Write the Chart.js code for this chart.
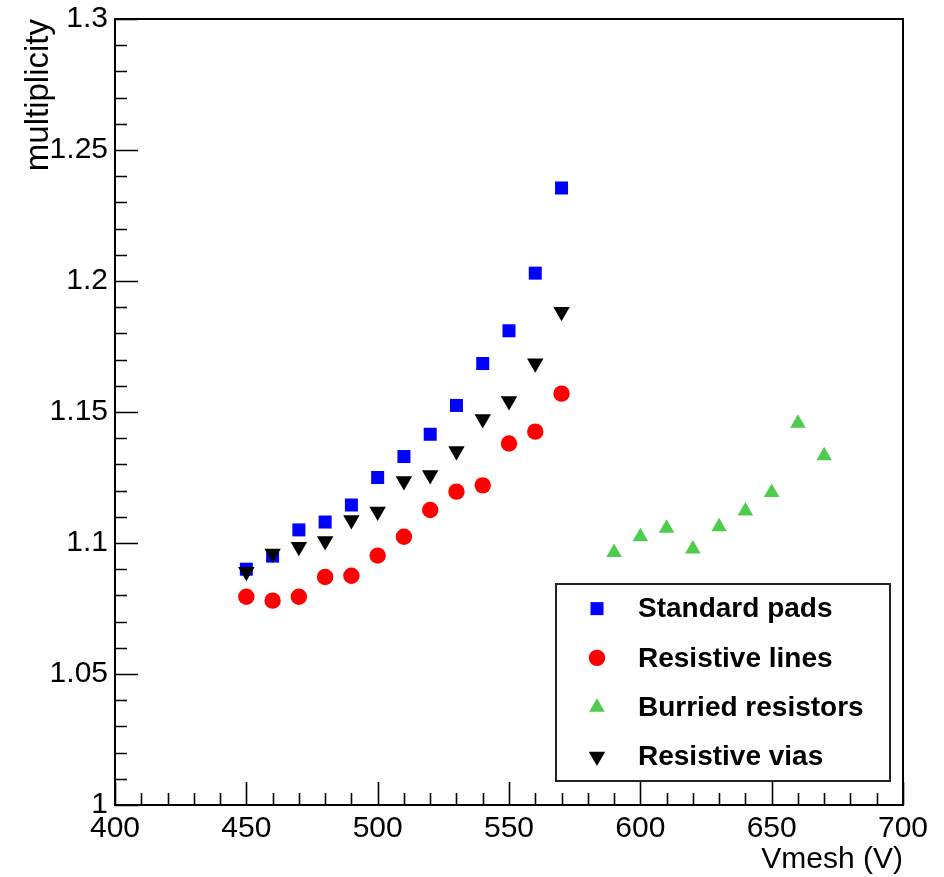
<!DOCTYPE html>
<html>
<head>
<meta charset="utf-8">
<title>multiplicity vs Vmesh</title>
<script src="https://cdn.jsdelivr.net/npm/chart.js@4.4.1/dist/chart.umd.min.js"></script>
<style>
    html, body { margin: 0; padding: 0; background: #fff; }
    #wrap { width: 944px; height: 877px; }
</style>
</head>
<body>
<div id="wrap"><canvas id="chart" width="944" height="877"></canvas></div>
<script>
// --- Data ---
const vmeshLow = [450, 460, 470, 480, 490, 500, 510, 520, 530, 540, 550, 560, 570];
const vmeshHigh = [590, 600, 610, 620, 630, 640, 650, 660, 670];

const standardPads = [1.090, 1.095, 1.105, 1.108, 1.1145, 1.125, 1.133, 1.1415, 1.1525, 1.1685, 1.181, 1.203, 1.2355];
const resistiveLines = [1.0795, 1.078, 1.0795, 1.087, 1.0875, 1.0952, 1.1024, 1.1126, 1.1196, 1.122, 1.138, 1.1425, 1.157];
const burriedResistors = [1.0964, 1.1024, 1.1056, 1.0977, 1.1062, 1.1122, 1.1193, 1.1457, 1.1333];
const resistiveVias = [1.089, 1.096, 1.0986, 1.1008, 1.1088, 1.112, 1.1237, 1.126, 1.1351, 1.1473, 1.1542, 1.1686, 1.1883];

const seriesLabels = ['Standard pads', 'Resistive lines', 'Burried resistors', 'Resistive vias'];

const xMin = 400, xMax = 700;
const yMin = 1.0, yMax = 1.3;

const FONT = '"Liberation Sans", Arial, Helvetica, sans-serif';

function toPoints(xs, ys) {
    return xs.map((x, i) => ({ x: x, y: ys[i] }));
}

// --- ROOT-style frame, inward ticks and legend box ---
const rootFrame = {
    id: 'rootFrame',
    beforeDatasetsDraw(chart) {
        const { ctx, chartArea: a, scales } = chart;
        ctx.save();
        ctx.strokeStyle = '#000';
        ctx.lineWidth = 1.6;
        ctx.beginPath();

        // x ticks every 10 V, long ones every 50 V
        for (let v = xMin; v <= xMax; v += 10) {
            const px = Math.round(scales.x.getPixelForValue(v)) + 0.5;
            const len = v % 50 === 0 ? 23 : 12;
            ctx.moveTo(px, a.bottom);
            ctx.lineTo(px, a.bottom - len);
        }
        // y ticks every 0.01, long ones every 0.05
        for (let k = 0; k <= 30; k++) {
            const v = yMin + k * 0.01;
            const py = Math.round(scales.y.getPixelForValue(v)) + 0.5;
            const len = k % 5 === 0 ? 23 : 12;
            ctx.moveTo(a.left, py);
            ctx.lineTo(a.left + len, py);
        }
        ctx.stroke();

        ctx.lineWidth = 2;
        ctx.strokeRect(a.left, a.top, a.right - a.left, a.bottom - a.top);
        ctx.restore();
    },
    afterDatasetsDraw(chart) {
        const { ctx } = chart;
        const box = { left: 556, top: 584, right: 890, bottom: 781 };
        ctx.save();
        ctx.fillStyle = '#fff';
        ctx.fillRect(box.left, box.top, box.right - box.left, box.bottom - box.top);
        ctx.strokeStyle = '#222';
        ctx.lineWidth = 2;
        ctx.strokeRect(box.left, box.top, box.right - box.left, box.bottom - box.top);

        const rowH = (box.bottom - box.top) / 4;
        ctx.font = 'bold 28px ' + FONT;
        ctx.textBaseline = 'middle';
        ctx.textAlign = 'left';
        chart.data.datasets.forEach((ds, i) => {
            const cy = box.top + rowH * (i + 0.5);
            ctx.fillStyle = ds.backgroundColor;
            ctx.strokeStyle = ds.borderColor;
            Chart.helpers.drawPoint(ctx, {
                pointStyle: ds.pointStyle,
                radius: ds.pointRadius,
                rotation: ds.pointRotation || 0,
                borderWidth: 0
            }, 597, cy);
            ctx.fillStyle = '#000';
            ctx.fillText(ds.label, 638, cy + 1);
        });
        ctx.restore();
    }
};

// pin the plot frame: no extra room for the end tick labels
function noLabelOverhang(scale) {
    scale.paddingTop = 0;
    scale.paddingBottom = 0;
    scale.paddingLeft = 0;
    scale.paddingRight = 0;
}

const ctx = document.getElementById('chart').getContext('2d');
const chart = new Chart(ctx, {
    type: 'scatter',
    data: {
        datasets: [
            {
                label: seriesLabels[0],
                data: toPoints(vmeshLow, standardPads),
                pointStyle: 'rect',
                pointRadius: 9.2,
                backgroundColor: '#0000ff',
                borderColor: '#0000ff',
                borderWidth: 0,
                order: 4
            },
            {
                label: seriesLabels[1],
                data: toPoints(vmeshLow, resistiveLines),
                pointStyle: 'circle',
                pointRadius: 8.2,
                backgroundColor: '#ff0000',
                borderColor: '#ff0000',
                borderWidth: 0,
                order: 3
            },
            {
                label: seriesLabels[2],
                data: toPoints(vmeshHigh, burriedResistors),
                pointStyle: 'triangle',
                pointRadius: 9,
                backgroundColor: '#4dcc4d',
                borderColor: '#4dcc4d',
                borderWidth: 0,
                order: 2
            },
            {
                label: seriesLabels[3],
                data: toPoints(vmeshLow, resistiveVias),
                pointStyle: 'triangle',
                pointRotation: 180,
                pointRadius: 9.5,
                backgroundColor: '#000000',
                borderColor: '#000000',
                borderWidth: 0,
                order: 1
            }
        ]
    },
    options: {
        responsive: false,
        animation: false,
        devicePixelRatio: 1,
        layout: { padding: { left: 0, top: 19, right: 41, bottom: 0 } },
        plugins: {
            legend: { display: false },
            tooltip: { enabled: false }
        },
        elements: { point: { hoverRadius: 9 } },
        scales: {
            x: {
                type: 'linear',
                min: xMin,
                max: xMax,
                grid: { display: false, drawTicks: false, tickLength: 0 },
                border: { display: false },
                ticks: {
                    stepSize: 50,
                    padding: 6,
                    color: '#000',
                    font: { family: FONT, size: 30 },
                    maxRotation: 0,
                    autoSkip: false
                },
                title: {
                    display: true,
                    text: 'Vmesh (V)',
                    align: 'end',
                    color: '#000',
                    font: { family: FONT, size: 30 },
                    padding: { top: 0, bottom: -1 }
                },
                afterFit(scale) {
                    scale.height = 72;
                    noLabelOverhang(scale);
                }
            },
            y: {
                type: 'linear',
                min: yMin,
                max: yMax,
                grid: { display: false, drawTicks: false, tickLength: 0 },
                border: { display: false },
                ticks: {
                    stepSize: 0.05,
                    padding: 7,
                    color: '#000',
                    font: { family: FONT, size: 30 },
                    autoSkip: false,
                    callback: (v) => String(Number(v.toFixed(2)))
                },
                title: {
                    display: true,
                    text: 'multiplicity',
                    align: 'end',
                    color: '#000',
                    font: { family: FONT, size: 33 },
                    padding: { top: 19, bottom: 0 }
                },
                afterFit(scale) {
                    scale.width = 115;
                    noLabelOverhang(scale);
                }
            }
        }
    },
    plugins: [rootFrame]
});
</script>
</body>
</html>
